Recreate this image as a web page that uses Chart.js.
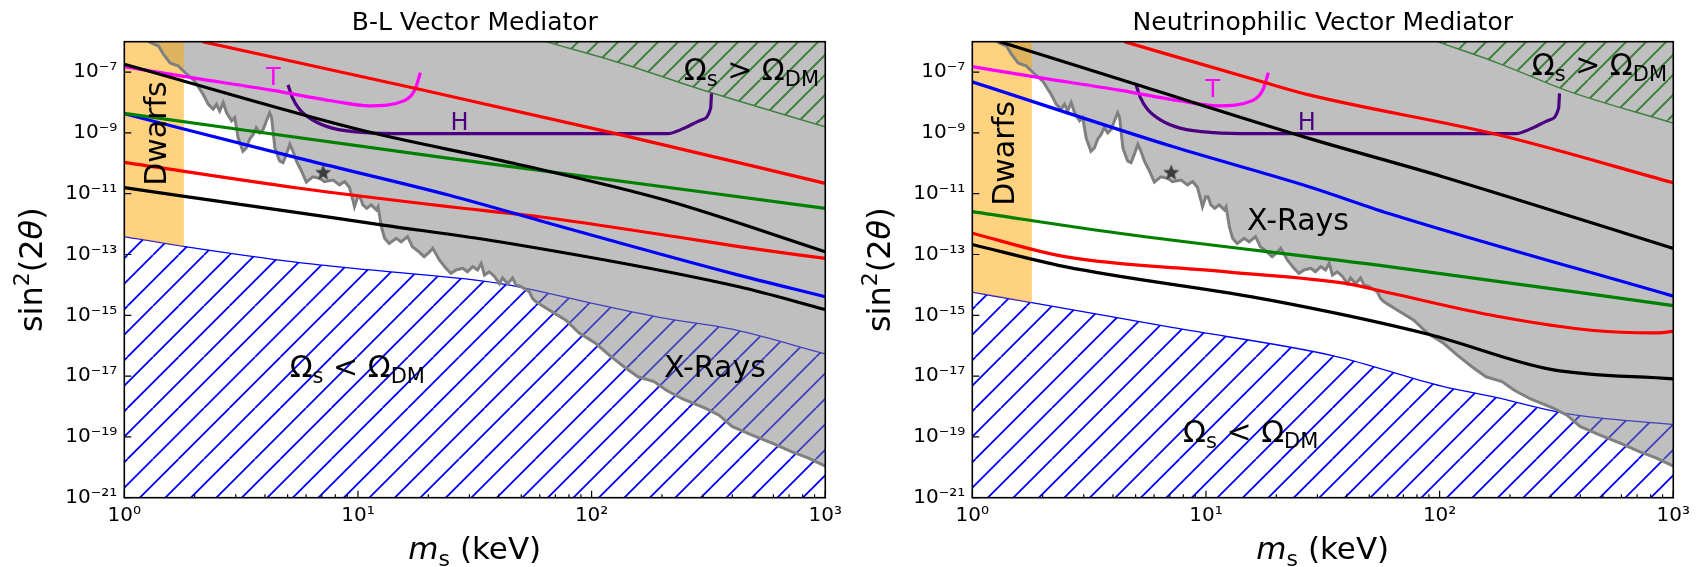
<!DOCTYPE html>
<html>
<head>
<meta charset="utf-8">
<script src="https://cdn.jsdelivr.net/npm/chart.js@4/dist/chart.umd.min.js"></script>
<style>
  html, body { margin: 0; padding: 0; background: #fff; }
  body { width: 1697px; height: 567px; overflow: hidden; position: relative; }
  .panel { position: absolute; top: 0; width: 848px; height: 567px; }
</style>
</head>
<body>
<div class="panel" style="left:0"><canvas id="bl" width="848" height="567"></canvas></div>
<div class="panel" style="left:848px"><canvas id="nu" width="848" height="567"></canvas></div>
<script>
// ---------- axis ticks ----------
const massTicks = [1, 10, 100, 1000];
const mixTicks = [1e-21, 1e-19, 1e-17, 1e-15, 1e-13, 1e-11, 1e-9, 1e-7];

// ---------- constraints common to both mediators ----------
// X-ray bound (shaded above)
const xrayMass = [1.27,1.40,1.47,1.57,1.70,1.85,2.00,2.17,2.29,2.40,2.48,2.56,2.65,2.74,2.88,2.97,3.07,3.22,3.33,3.44,3.56,3.67,3.80,3.93,4.06,4.19,4.27,4.41,4.62,4.78,4.94,5.11,5.27,5.45,5.73,6.01,6.41,6.86,7.19,7.82,8.34,8.77,9.20,9.51,9.66,9.98,10.2,10.5,10.9,11.4,12.0,12.2,12.6,13.0,13.6,14.6,15.3,16.3,17.1,18.3,19.2,20.2,20.9,22.3,23.8,25.0,26.3,28.1,29.4,31.0,32.5,33.7,34.8,36.5,38.4,40.3,41.6,43.7,45.9,47.4,49.9,54.1,55.8,57.8,65.8,77.6,88.5,104,119,138,158,185,208,244,308,351,399,486,592,721,849,1000];
const xrayMix = [1.0e-6,7.2e-7,3.9e-7,2.0e-7,1.6e-7,8.5e-8,5.1e-8,1.9e-8,8.7e-9,6.0e-9,8.7e-9,5.2e-9,1.0e-8,4.6e-9,2.5e-9,3.2e-9,6.9e-10,2.5e-10,3.2e-10,6.2e-10,8.9e-10,1.5e-9,1.0e-9,1.3e-9,2.5e-9,4.6e-9,3.2e-9,3.2e-10,1.2e-10,1.05e-10,2.0e-10,4.2e-10,2.5e-10,1.2e-10,5.6e-11,2.4e-11,3.6e-11,3.2e-11,2.5e-11,2.8e-11,1.95e-11,2.5e-11,1.6e-11,6.2e-12,3.7e-12,7.9e-12,7.9e-12,4.3e-12,3.3e-12,4.3e-12,2.9e-12,3.7e-12,8.1e-13,3.4e-13,2.3e-13,3.4e-13,2.6e-13,3.9e-13,1.8e-13,1.2e-13,8.5e-14,1.2e-13,1.6e-13,6.6e-14,3.5e-14,2.4e-14,3.1e-14,3.5e-14,2.7e-14,4.0e-14,3.1e-14,5.1e-14,2.1e-14,2.7e-14,1.9e-14,1.1e-14,1.7e-14,1.1e-14,1.7e-14,1.0e-14,8.7e-15,6.0e-15,3.6e-15,2.8e-15,1.5e-15,6.9e-16,2.6e-16,1.2e-16,4.9e-17,2.0e-17,9.5e-18,6.6e-18,3.5e-18,1.8e-18,8.7e-19,5.2e-19,2.2e-19,1.15e-19,6.2e-20,3.2e-20,2.0e-20,1.1e-20];
// 7.1 keV line
const starMass = [7.1];
const starMix = [5e-11];
// dwarf galaxy lower mass bound
const dwarfMass = [1, 1.8];
// T sensitivity
const tMass = [1, 1.94, 4.33, 7.82, 11.2, 15.8, 17.5, 18.5];
const tMix = [1.51e-7, 6.6e-8, 2.5e-8, 1.12e-8, 7.8e-9, 1.15e-8, 2.57e-8, 9.5e-8];
// H sensitivity
const hMass = [5.02, 5.25, 5.62, 6.41, 7.82, 10.8, 15.8, 211, 248, 293, 323, 326];
const hMix = [3.8e-8, 1.41e-8, 6.0e-9, 2.63e-9, 1.41e-9, 1.02e-9, 9.5e-10, 9.5e-10, 1.41e-9, 2.63e-9, 6.5e-9, 2.0e-8];

// ---------- B-L vector mediator ----------
const blRedHiMass = [2.16, 17.7, 127, 1000];
const blRedHiMix = [1e-6, 2.88e-8, 9.5e-10, 2.19e-11];
const blBlackHiMass = [1, 10.7, 46.3, 206, 1000];
const blBlackHiMix = [1.82e-7, 1.15e-9, 1e-10, 6.17e-12, 1.23e-13];
const blGreenMass = [1, 24.6, 35.5, 1000];
const blGreenMix = [4.37e-9, 1.45e-10, 1e-10, 3.31e-12];
const blBlueMass = [1, 5.62, 24.6, 59.7, 119, 399, 1000];
const blBlueMix = [4.27e-9, 1.45e-10, 8.9e-12, 1.32e-12, 3.0e-13, 2.4e-14, 4.07e-15];
const blRedLoMass = [1, 5.62, 24.6, 59.7, 244, 427, 1000];
const blRedLoMix = [1.07e-10, 1.51e-11, 3.72e-12, 1.74e-12, 3.55e-13, 1.82e-13, 7.41e-14];
const blBlackLoMass = [1, 5.62, 12.8, 40.3, 427, 1000];
const blBlackLoMix = [1.58e-11, 2.34e-12, 9.3e-13, 2.63e-13, 8.7e-15, 1.55e-15];
const blUnderMass = [1, 1.82, 5.62, 11.3, 40.3, 108, 207, 399, 1000];
const blUnderMix = [3.9e-13, 1.82e-13, 5.4e-14, 3.1e-14, 1.12e-14, 2.19e-15, 7.9e-16, 3.5e-16, 5.4e-17];
const blOverMass = [63.7, 134, 299, 1000];
const blOverMix = [1e-6, 1.95e-7, 2.57e-8, 1.58e-9];
const blDwarfMix = [3.9e-13, 1.82e-13];

// ---------- neutrinophilic vector mediator ----------
const nuRedHiMass = [4.48, 18.3, 27.6, 178, 1000];
const nuRedHiMix = [1e-6, 4.27e-8, 1.78e-8, 8.7e-10, 2.29e-11];
const nuBlackHiMass = [1.31, 4.85, 27.6, 103, 1000];
const nuBlackHiMix = [1e-6, 4.27e-8, 6.6e-10, 3.63e-11, 1.58e-13];
const nuBlueMass = [1, 7.2, 27.6, 60.7, 1000];
const nuBlueMix = [4.79e-8, 3.55e-10, 1.7e-11, 2.24e-12, 4.27e-15];
const nuGreenMass = [1, 4.25, 60.7, 1000];
const nuGreenMix = [2.57e-12, 5.0e-13, 3.98e-14, 2.09e-15];
const nuRedLoMass = [1, 2.49, 12.3, 39.6, 60.7, 176, 457, 822, 1000];
const nuRedLoMix = [5.0e-13, 8.5e-14, 2.69e-14, 1.12e-14, 5.5e-15, 9.3e-16, 3.16e-16, 2.63e-16, 2.95e-16];
const nuBlackLoMass = [1, 2.49, 18.8, 90.4, 299, 1000];
const nuBlackLoMix = [2.14e-13, 3.98e-14, 3.16e-15, 2.34e-16, 1.66e-17, 8.1e-18];
const nuUnderMass = [1, 1.82, 7.24, 35.5, 102, 176, 331, 513, 1000];
const nuUnderMix = [5.75e-15, 2.57e-15, 3.9e-16, 4.57e-17, 4.68e-18, 1.95e-18, 6.3e-19, 3.98e-19, 2.57e-19];
const nuOverMass = [97.7, 179, 345, 1000];
const nuOverMix = [1e-6, 1.95e-7, 2.57e-8, 2.09e-9];
const nuDwarfMix = [5.75e-15, 2.57e-15];

// ---------- drawing helpers ----------
const FONT = "'DejaVu Sans', sans-serif";
Chart.defaults.font.family = FONT;
Chart.defaults.color = '#000';

const SUP = {'-': '\u207B', '0': '\u2070', '1': '\u00B9', '2': '\u00B2', '3': '\u00B3',
             '4': '\u2074', '5': '\u2075', '6': '\u2076', '7': '\u2077', '8': '\u2078', '9': '\u2079'};
function powLabel(v) {
  const e = Math.round(Math.log10(v));
  return '10' + String(e).split('').map(c => SUP[c]).join('');
}

const pts = (ms, ss) => ms.map((m, i) => ({x: m, y: ss[i]}));

function hatchPattern(ctx, color, step, width) {
  const size = step * 2;
  const tile = document.createElement('canvas');
  tile.width = tile.height = Math.round(size);
  const g = tile.getContext('2d');
  g.strokeStyle = color;
  g.lineWidth = width;
  g.beginPath();
  for (let k = -2; k <= 2; k++) {
    g.moveTo(k * step, size);
    g.lineTo(k * step + size, 0);
  }
  g.stroke();
  return ctx.createPattern(tile, 'repeat');
}

function starImage() {
  const c = document.createElement('canvas');
  c.width = c.height = 20;
  const g = c.getContext('2d');
  g.fillStyle = '#3a3a3a';
  g.beginPath();
  for (let i = 0; i < 10; i++) {
    const r = i % 2 === 0 ? 8.5 : 3.6;
    const a = -Math.PI / 2 + i * Math.PI / 5;
    const px = 10 + r * Math.cos(a), py = 10.5 + r * Math.sin(a);
    if (i === 0) g.moveTo(px, py); else g.lineTo(px, py);
  }
  g.closePath();
  g.fill();
  return c;
}

function drawRich(ctx, x, y, runs, align) {
  let w = 0;
  for (const r of runs) {
    ctx.font = (r.i ? 'italic ' : '') + r.s + 'px ' + FONT;
    r.w = ctx.measureText(r.t).width;
    w += r.w;
  }
  let cx = align === 'center' ? x - w / 2 : x;
  for (const r of runs) {
    ctx.font = (r.i ? 'italic ' : '') + r.s + 'px ' + FONT;
    ctx.fillText(r.t, cx, y + (r.dy || 0));
    cx += r.w;
  }
}

const omegaRuns = (rel) => [
  {t: '\u03A9', s: 30}, {t: 's', s: 21, dy: 6}, {t: ' ' + rel + ' ', s: 30},
  {t: '\u03A9', s: 30}, {t: 'DM', s: 21, dy: 6}
];

// inward tick marks and frame
const axisFrame = {
  id: 'axisFrame',
  afterDraw(chart) {
    const {ctx, chartArea: a, scales: {x, y}} = chart;
    ctx.save();
    ctx.strokeStyle = '#000';
    ctx.lineWidth = 1.2;
    ctx.beginPath();
    for (const v of massTicks) {
      const px = x.getPixelForValue(v);
      ctx.moveTo(px, a.bottom); ctx.lineTo(px, a.bottom - 7);
    }
    for (let d = 1; d < 1000; d *= 10) {
      for (let k = 2; k <= 9; k++) {
        const px = x.getPixelForValue(k * d);
        ctx.moveTo(px, a.bottom); ctx.lineTo(px, a.bottom - 3.5);
      }
    }
    for (const v of mixTicks) {
      const py = y.getPixelForValue(v);
      ctx.moveTo(a.left, py); ctx.lineTo(a.left + 7, py);
    }
    ctx.stroke();
    ctx.lineWidth = 1.6;
    ctx.strokeRect(a.left, a.top, a.right - a.left, a.bottom - a.top);
    ctx.restore();
  }
};

// titles, axis labels and region labels
const panelText = {
  id: 'panelText',
  afterDraw(chart, args, opts) {
    const {ctx, chartArea: a, scales: {x, y}} = chart;
    ctx.save();
    ctx.fillStyle = '#000';
    ctx.textBaseline = 'alphabetic';
    ctx.textAlign = 'left';
    const cx = (a.left + a.right) / 2;
    drawRich(ctx, cx, 30, [{t: opts.title, s: 25}], 'center');
    drawRich(ctx, cx, 559, [{t: 'm', s: 31, i: true}, {t: 's', s: 22, dy: 7}, {t: ' (keV)', s: 31}], 'center');
    ctx.save();
    ctx.translate(42, (a.top + a.bottom) / 2);
    ctx.rotate(-Math.PI / 2);
    drawRich(ctx, 0, 0, [{t: 'sin', s: 32}, {t: '2', s: 22, dy: -13}, {t: '(2', s: 32}, {t: '\u03B8', s: 32, i: true}, {t: ')', s: 32}], 'center');
    ctx.restore();
    for (const L of opts.labels) {
      const px = x.getPixelForValue(L.at[0]);
      const py = y.getPixelForValue(L.at[1]);
      ctx.fillStyle = L.color || '#000';
      if (L.rotate) {
        ctx.save();
        ctx.translate(px, py);
        ctx.rotate(-Math.PI / 2);
        ctx.textBaseline = 'middle';
        drawRich(ctx, 0, 0, L.runs, 'center');
        ctx.restore();
      } else {
        drawRich(ctx, px, py, L.runs, L.align || 'left');
      }
    }
    ctx.restore();
  }
};

function lineDs(ms, ss, color) {
  return {data: pts(ms, ss), borderColor: color, borderWidth: 3.2, pointRadius: 0,
          fill: false, cubicInterpolationMode: 'monotone', order: 1};
}

function buildPanel(id, p) {
  const canvas = document.getElementById(id);
  const ctx = canvas.getContext('2d');
  const datasets = [
    {data: pts(starMass, starMix), showLine: false, pointStyle: starImage(), pointRadius: 8, order: 0},
    lineDs(p.redHi[0], p.redHi[1], '#ff0000'),
    lineDs(p.blackHi[0], p.blackHi[1], '#000000'),
    lineDs(p.green[0], p.green[1], '#008000'),
    lineDs(p.blue[0], p.blue[1], '#0000ff'),
    lineDs(p.redLo[0], p.redLo[1], '#ff0000'),
    lineDs(p.blackLo[0], p.blackLo[1], '#000000'),
    lineDs(tMass, tMix, '#ff00ff'),
    lineDs(hMass, hMix, '#4b0082'),
    // X-ray edge
    {data: pts(xrayMass, xrayMix), borderColor: '#808080', borderWidth: 3, pointRadius: 0, fill: false, order: 2},
    // dwarfs band
    {data: pts(dwarfMass, p.dwarf), borderWidth: 0, pointRadius: 0, fill: 'end',
     backgroundColor: 'rgba(255,165,0,0.5)', order: 3},
    // X-ray excluded region
    {data: pts(xrayMass, xrayMix), borderWidth: 0, pointRadius: 0, fill: 'end',
     backgroundColor: 'rgba(128,128,128,0.5)', order: 4},
    // overproduction
    {data: pts(p.over[0], p.over[1]), borderColor: '#008000', borderWidth: 1.4, pointRadius: 0, fill: 'end',
     backgroundColor: hatchPattern(ctx, '#008000', 20, 2.0), cubicInterpolationMode: 'monotone', order: 5},
    // underproduction
    {data: pts(p.under[0], p.under[1]), borderColor: '#0000ff', borderWidth: 1.3, pointRadius: 0, fill: 'start',
     backgroundColor: hatchPattern(ctx, '#0000ff', 25.5, 1.8), cubicInterpolationMode: 'monotone', order: 6}
  ];
  return new Chart(ctx, {
    type: 'line',
    data: {datasets},
    options: {
      responsive: false,
      animation: false,
      devicePixelRatio: 1,
      layout: {padding: {left: 0, right: 21.3, top: 41.7, bottom: 0}},
      plugins: {
        legend: {display: false},
        tooltip: {enabled: false},
        panelText: {title: p.title, labels: p.labels}
      },
      scales: {
        x: {
          type: 'logarithmic', min: 1, max: 1000,
          grid: {display: false, drawTicks: false},
          border: {display: false},
          afterBuildTicks: s => { s.ticks = massTicks.map(v => ({value: v})); },
          afterFit: s => { s.height = 69.3; },
          ticks: {font: {size: 20}, padding: 6, maxRotation: 0, autoSkip: false, callback: v => powLabel(v)}
        },
        y: {
          type: 'logarithmic', min: 1e-21, max: 1e-6,
          grid: {display: false, drawTicks: false},
          border: {display: false},
          afterBuildTicks: s => { s.ticks = mixTicks.map(v => ({value: v})); },
          afterFit: s => { s.width = 124.3; },
          ticks: {font: {size: 20}, padding: 7, autoSkip: false, callback: v => powLabel(v)}
        }
      }
    },
    plugins: [axisFrame, panelText]
  });
}

buildPanel('bl', {
  title: 'B-L Vector Mediator',
  redHi: [blRedHiMass, blRedHiMix], blackHi: [blBlackHiMass, blBlackHiMix],
  green: [blGreenMass, blGreenMix], blue: [blBlueMass, blBlueMix],
  redLo: [blRedLoMass, blRedLoMix], blackLo: [blBlackLoMass, blBlackLoMix],
  under: [blUnderMass, blUnderMix], over: [blOverMass, blOverMix], dwarf: blDwarfMix,
  labels: [
    {at: [1.39, 9.5e-10], rotate: true, runs: [{t: 'Dwarfs', s: 30}]},
    {at: [4.34, 3.8e-8], align: 'center', color: '#ff00ff', runs: [{t: 'T', s: 24}]},
    {at: [27.2, 1.26e-9], align: 'center', color: '#4b0082', runs: [{t: 'H', s: 24}]},
    {at: [248, 5.5e-8], runs: omegaRuns('>')},
    {at: [5.1, 9.5e-18], runs: omegaRuns('<')},
    {at: [204, 9.5e-18], runs: [{t: 'X-Rays', s: 30}]}
  ]
});

buildPanel('nu', {
  title: 'Neutrinophilic Vector Mediator',
  redHi: [nuRedHiMass, nuRedHiMix], blackHi: [nuBlackHiMass, nuBlackHiMix],
  green: [nuGreenMass, nuGreenMix], blue: [nuBlueMass, nuBlueMix],
  redLo: [nuRedLoMass, nuRedLoMix], blackLo: [nuBlackLoMass, nuBlackLoMix],
  under: [nuUnderMass, nuUnderMix], over: [nuOverMass, nuOverMix], dwarf: nuDwarfMix,
  labels: [
    {at: [1.39, 2.1e-10], rotate: true, runs: [{t: 'Dwarfs', s: 30}]},
    {at: [10.7, 1.55e-8], align: 'center', color: '#ff00ff', runs: [{t: 'T', s: 24}]},
    {at: [27.0, 1.26e-9], align: 'center', color: '#4b0082', runs: [{t: 'H', s: 24}]},
    {at: [248, 8.0e-8], runs: omegaRuns('>')},
    {at: [7.98, 6.9e-20], runs: omegaRuns('<')},
    {at: [15.0, 6.5e-13], runs: [{t: 'X-Rays', s: 30}]}
  ]
});
</script>
</body>
</html>
